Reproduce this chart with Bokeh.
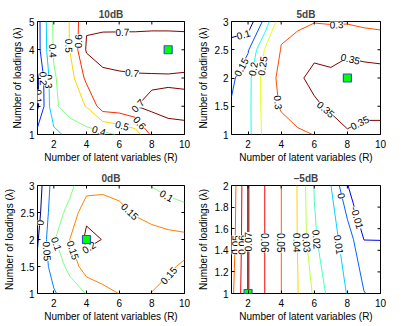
import numpy as np
from bokeh.plotting import figure
from bokeh.plotting.contour import contour_data
from bokeh.layouts import gridplot
from bokeh.models import (Range1d, FixedTicker, ColumnDataSource,
                          CustomJSTickFormatter)
from bokeh.embed import file_html
from bokeh.resources import INLINE
from bokeh.core.properties import value

# ---------------- data ----------------
R = [1, 2, 3, 4, 5, 6, 7, 8, 9, 10]
x_ticks = [2, 4, 6, 8, 10]

lam_10dB = [1, 2, 3, 4, 5]
lam_5dB = [1, 1.5, 2, 2.5, 3]
lam_0dB = [1, 1.5, 2, 2.5, 3]
lam_m5dB = [1, 1.5, 2]

y_ticks_10dB = [1, 2, 3, 4, 5]
y_ticks_5dB = [1, 1.5, 2, 2.5, 3]
y_ticks_0dB = [1, 1.5, 2, 2.5, 3]
y_ticks_m5dB = [1, 1.2, 1.4, 1.6, 1.8, 2]

# rows: lambda values, columns: R = 1..10
z_10dB = [
    [0.24, 0.27, 0.33, 0.36, 0.37, 0.41, 0.45, 0.62, 0.66, 0.67],
    [0.08, 0.38, 0.45, 0.505, 0.653, 0.66, 0.698, 0.72, 0.73, 0.73],
    [0.085, 0.39, 0.458, 0.625, 0.67, 0.68, 0.685, 0.685, 0.685, 0.68],
    [0.16, 0.41, 0.505, 0.71, 0.75, 0.76, 0.77, 0.78, 0.79, 0.78],
    [0.16, 0.42, 0.505, 0.69, 0.67, 0.665, 0.66, 0.66, 0.655, 0.655],
]
z_5dB = [
    [0.165, 0.185, 0.265, 0.28, 0.292, 0.301, 0.32, 0.345, 0.335, 0.33],
    [0.155, 0.185, 0.27, 0.305, 0.325, 0.34, 0.36, 0.37, 0.365, 0.37],
    [0.14, 0.183, 0.272, 0.313, 0.34, 0.367, 0.365, 0.375, 0.37, 0.365],
    [0.13, 0.145, 0.252, 0.302, 0.31, 0.335, 0.325, 0.34, 0.335, 0.335],
    [0.06, 0.07, 0.163, 0.291, 0.295, 0.298, 0.297, 0.296, 0.29, 0.285],
]
z_0dB = [
    [0.02, 0.045, 0.075, 0.102, 0.13, 0.151, 0.16, 0.149, 0.14, 0.13],
    [0.01, 0.07, 0.115, 0.18, 0.19, 0.185, 0.175, 0.165, 0.155, 0.145],
    [-0.005, 0.095, 0.152, 0.21, 0.199, 0.19, 0.18, 0.175, 0.17, 0.165],
    [-0.02, 0.085, 0.11, 0.19, 0.18, 0.165, 0.145, 0.13, 0.115, 0.109],
    [-0.029, 0.075, 0.092, 0.125, 0.135, 0.13, 0.12, 0.098, 0.09, 0.085],
]
z_m5dB = [
    [0.047, 0.0705, 0.0601, 0.0501, 0.0403, 0.0285, 0.016, 0.0096, 0.0005, -0.004],
    [0.044, 0.0705, 0.0601, 0.0501, 0.0397, 0.0213, 0.0135, 0.0059, -0.0101, -0.0101],
    [0.0425, 0.0705, 0.0601, 0.0501, 0.0395, 0.0195, 0.0102, -0.0098, -0.015, -0.018],
]

levels_10dB = [0.1, 0.2, 0.3, 0.4, 0.5, 0.6, 0.7]
levels_5dB = [0.1, 0.15, 0.2, 0.25, 0.3, 0.35]
levels_0dB = [0.0, 0.05, 0.1, 0.15, 0.2]
levels_m5dB = [-0.01, 0.0, 0.01, 0.02, 0.03, 0.04, 0.05, 0.06, 0.07]

best_R = [9, 8, 4, 2]
best_lam = [4, 2, 2, 1]

titles = ["10dB", "5dB", "0dB", "\u20135dB"]

# contour-label placement hints (level, R, lambda)
hints_10dB = [(0.7, 6.2, 4.73), (0.7, 6.8, 3.24), (0.7, 7.0, 2.1), (0.6, 7.2, 1.38),
              (0.5, 6.2, 1.35), (0.4, 4.8, 1.2), (0.6, 3.45, 4.3), (0.5, 2.95, 4.14),
              (0.4, 1.85, 3.96), (0.3, 1.82, 2.88), (0.2, 1.32, 2.98), (0.1, 1.1, 2.35)]
hints_5dB = [(0.1, 1.8, 2.69), (0.15, 1.6, 2.19), (0.2, 2.29, 2.16), (0.25, 2.79, 2.22),
             (0.3, 7.36, 2.81), (0.3, 3.88, 1.57), (0.35, 8.16, 2.31), (0.35, 7.0, 1.55),
             (0.35, 8.8, 1.17)]
hints_0dB = [(0.0, 1.16, 2.31), (0.05, 1.46, 1.78), (0.1, 2.15, 1.92), (0.15, 2.95, 1.78),
             (0.2, 4.14, 1.86), (0.15, 6.63, 2.51), (0.1, 8.9, 2.81), (0.15, 8.7, 1.42)]
hints_m5dB = [(0.05, 1.1, 1.45), (0.06, 1.5, 1.45), (0.07, 1.95, 1.48), (0.06, 2.99, 1.47),
              (0.05, 3.98, 1.47), (0.04, 4.94, 1.47), (0.03, 5.57, 1.47), (0.02, 6.07, 1.5),
              (0.01, 7.36, 1.45), (0.0, 7.56, 1.9), (-0.01, 8.55, 1.7)]

FONT = "Liberation Sans"
FW, FH = 151, 113


def jet(t):
    t = min(max(t, 0.0), 1.0)
    r = min(max(1.5 - abs(4 * t - 3), 0), 1)
    g = min(max(1.5 - abs(4 * t - 2), 0), 1)
    b = min(max(1.5 - abs(4 * t - 1), 0), 1)
    return "#%02x%02x%02x" % (round(r * 255), round(g * 255), round(b * 255))


def fmt(v):
    s = "%g" % v
    return "0" if s in ("0", "-0") else s


def make_panel(title, lam, z, levels, clim, bx, by, yticks, hints,
               bl, br, bt, bb):
    y0, y1 = min(lam), max(lam)
    p = figure(width=bl + FW + br, height=bt + FH + bb, x_range=Range1d(1, 10),
               y_range=Range1d(y0, y1), output_backend="svg", toolbar_location=None,
               title=title, min_border_left=bl, min_border_right=br,
               min_border_top=bt, min_border_bottom=bb,
               x_axis_label="Number of latent variables (R)",
               y_axis_label="Number of loadings (\u03bb)")
    p.title.align = "center"
    p.title.text_font = FONT
    p.title.text_font_size = "10px"
    p.title.text_font_style = "bold"
    p.title.standoff = 4
    p.title.offset = 0
    p.xgrid.grid_line_color = None
    p.ygrid.grid_line_color = None
    p.outline_line_color = "black"
    p.outline_line_width = 1
    p.background_fill_color = "white"
    p.border_fill_color = "white"

    fmtr = CustomJSTickFormatter(code="return String(Math.round(tick*100)/100);")
    p.xaxis[0].ticker = FixedTicker(ticks=x_ticks)
    p.yaxis[0].ticker = FixedTicker(ticks=yticks)
    p.xaxis[0].formatter = fmtr
    p.yaxis[0].formatter = fmtr
    for ax in (p.xaxis[0], p.yaxis[0]):
        ax.major_tick_in = 3
        ax.major_tick_out = 0
        ax.minor_tick_in = 0
        ax.minor_tick_out = 0
        ax.axis_line_color = None
        ax.major_label_text_font = FONT
        ax.major_label_text_font_size = "10px"
        ax.major_label_text_color = "black"
        ax.axis_label_text_font = FONT
        ax.axis_label_text_font_size = "10px"
        ax.axis_label_text_font_style = "normal"
        ax.axis_label_text_color = "black"
    p.xaxis[0].major_label_standoff = 5
    p.xaxis[0].axis_label_standoff = 1
    p.yaxis[0].major_label_standoff = 3
    p.yaxis[0].axis_label_standoff = 3

    xa = np.array(R, dtype=float)
    ya = np.array(lam, dtype=float)
    za = np.array(z, dtype=float)
    cd = contour_data(xa, ya, za, levels, want_fill=False)
    ld = cd.line_data
    line_levels = list(getattr(ld, "levels", levels))
    colors = [jet((lv - clim[0]) / (clim[1] - clim[0])) for lv in line_levels]
    src = ColumnDataSource(dict(xs=[np.asarray(a, float) for a in ld.xs],
                                ys=[np.asarray(a, float) for a in ld.ys],
                                color=colors))
    p.multi_line(xs="xs", ys="ys", line_color="color", line_width=1, source=src)

    # contour labels snapped onto the computed contour lines
    sx = FW / 9.0
    sy = FH / (y1 - y0)
    lx, ly, lt, la = [], [], [], []
    for lev, hx, hy in hints:
        i = int(np.argmin([abs(l - lev) for l in line_levels]))
        xs = np.asarray(ld.xs[i], float)
        ys = np.asarray(ld.ys[i], float)
        best = None
        for k in range(len(xs) - 1):
            ax_, ay_, bx_, by_ = xs[k], ys[k], xs[k + 1], ys[k + 1]
            if np.isnan(ax_) or np.isnan(bx_):
                continue
            AX, AY, BX, BY = ax_ * sx, ay_ * sy, bx_ * sx, by_ * sy
            HX, HY = hx * sx, hy * sy
            dx, dy = BX - AX, BY - AY
            L2 = dx * dx + dy * dy
            if L2 == 0:
                continue
            u = min(max(((HX - AX) * dx + (HY - AY) * dy) / L2, 0.0), 1.0)
            PX, PY = AX + u * dx, AY + u * dy
            d = (PX - HX) ** 2 + (PY - HY) ** 2
            if best is None or d < best[0]:
                best = (d, PX / sx, PY / sy, np.arctan2(dy, dx))
        if best is None:
            continue
        ang = best[3]
        if ang >= np.pi / 2 - 1e-6:
            ang -= np.pi
        elif ang < -np.pi / 2 - 1e-6:
            ang += np.pi
        lx.append(best[1]); ly.append(best[2]); lt.append(fmt(line_levels[i])); la.append(ang)
    tsrc = ColumnDataSource(dict(x=lx, y=ly, text=lt, angle=la))
    p.text(x="x", y="y", text="text", angle="angle", source=tsrc,
           text_font=value(FONT), text_font_size="10px", text_color="black",
           text_align="center", text_baseline="middle",
           background_fill_color="white", padding=0)

    # mirrored inward ticks on the top and right edges of the box
    p.scatter(x=x_ticks, y=[y1] * len(x_ticks), marker="dash", angle=np.pi / 2,
              size=6, line_color="black", line_width=1)
    p.scatter(x=[10] * len(yticks), y=yticks, marker="dash", size=6,
              line_color="black", line_width=1)

    p.scatter([bx], [by], marker="square", size=8, fill_color="#00ff00",
              line_color="#3050e0", line_width=1.2)
    return p


p1 = make_panel(titles[0], lam_10dB, z_10dB, levels_10dB, (0.1, 0.7), best_R[0], best_lam[0],
                y_ticks_10dB, hints_10dB, 33, 10, 21, 34)
p2 = make_panel(titles[1], lam_5dB, z_5dB, levels_5dB, (0.1, 0.35), best_R[1], best_lam[1],
                y_ticks_5dB, hints_5dB, 35, 12, 21, 34)
p3 = make_panel(titles[2], lam_0dB, z_0dB, levels_0dB, (0.0, 0.2), best_R[2], best_lam[2],
                y_ticks_0dB, hints_0dB, 33, 10, 13, 30)
p4 = make_panel(titles[3], lam_m5dB, z_m5dB, levels_m5dB, (-0.02, 0.07), best_R[3], best_lam[3],
                y_ticks_m5dB, hints_m5dB, 35, 12, 13, 30)

grid = gridplot([[p1, p2], [p3, p4]], toolbar_location=None)
open("out.html", "w").write(file_html(grid, INLINE))
